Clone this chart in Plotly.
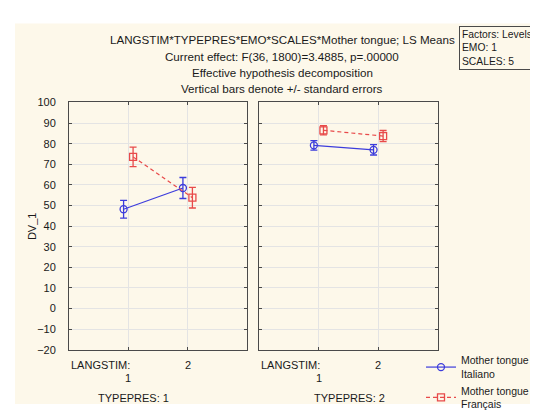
import plotly.graph_objects as go

W, H = 538, 410

# ---- data ----
langstim = [1, 2]
typepres_labels = ["TYPEPRES: 1", "TYPEPRES: 2"]
series_names = ["Mother tongue<br>Italiano", "Mother tongue<br>Français"]
italiano_means = [[48.2, 58.5], [79.2, 77.0]]
italiano_se = [[4.3, 5.1], [2.3, 2.5]]
francais_means = [[73.6, 53.8], [86.5, 83.7]]
francais_se = [[4.7, 5.0], [2.2, 2.7]]
y_ticks = list(range(-20, 101, 10))
title_lines = [
    "LANGSTIM*TYPEPRES*EMO*SCALES*Mother tongue; LS Means",
    "Current effect: F(36, 1800)=3.4885, p=.00000",
    "Effective hypothesis decomposition",
    "Vertical bars denote +/- standard errors",
]
factor_lines = ["Factors: Levels", "EMO: 1", "SCALES: 5"]

# ---- styling ----
FONT = "Liberation Sans, Arial, sans-serif"
BLUE = "#3c3cdc"
RED = "#e84a4a"
CREAM = "#fdf8ea"
FRAME = "#4a4a4a"
GRID = "#e4e4e4"
OFF = 0.08

def px(x):
    return x / W

def py(y):
    return 1 - y / H

fig = go.Figure()

series = [
    (series_names[0], italiano_means, italiano_se, BLUE, "circle-open", "solid", -OFF),
    (series_names[1], francais_means, francais_se, RED, "square-open", "4px,3px", OFF),
]

for p in range(2):
    xa = "x" if p == 0 else "x2"
    for name, means, se, col, sym, dash, off in series:
        fig.add_trace(go.Scatter(
            x=[v + off for v in langstim], y=means[p],
            xaxis=xa, yaxis="y" if p == 0 else "y2",
            mode="lines+markers", name=name, showlegend=(p == 0),
            line=dict(color=col, width=1.2, dash=dash),
            marker=dict(symbol=sym, size=7, color=col, line=dict(width=1.3, color=col)),
            error_y=dict(type="data", array=se[p], visible=True, color=col,
                         thickness=1.3, width=3.5),
        ))

ydom = [py(353), py(93)]
common_axis = dict(showline=True, linecolor=FRAME, linewidth=1, mirror="ticks",
                   ticks="inside", ticklen=3, tickcolor=FRAME, showgrid=True,
                   gridcolor=GRID, gridwidth=1, zeroline=False)

fig.update_layout(
    width=W, height=H,
    margin=dict(l=0, r=0, t=0, b=0),
    paper_bgcolor="white", plot_bgcolor="white",
    font=dict(family=FONT, size=11, color="#1a1a1a"),
    xaxis=dict(domain=[px(61), px(239)], range=[0, 3], tickvals=langstim,
               showticklabels=False, **common_axis),
    xaxis2=dict(domain=[px(251), px(430)], range=[0, 3], tickvals=langstim,
                showticklabels=False, anchor="y2", **common_axis),
    yaxis=dict(domain=ydom, range=[-20, 100], tickvals=y_ticks, ticklabelstandoff=10,
               **common_axis),
    yaxis2=dict(domain=ydom, range=[-20, 100], tickvals=y_ticks, anchor="x2",
                showticklabels=False, **common_axis),
    legend=dict(x=px(413), y=py(350), xanchor="left", yanchor="top",
                bgcolor="rgba(0,0,0,0)", font=dict(size=10.5), tracegroupgap=2),
    showlegend=True,
)

# cream background
fig.add_shape(type="rect", xref="paper", yref="paper", x0=px(7), x1=1, y0=0, y1=py(10),
              fillcolor=CREAM, line=dict(width=0), layer="below")

# y-axis title
fig.add_annotation(text="DV_1", xref="paper", yref="paper", x=px(24), y=py(223),
                   xanchor="center", yanchor="middle", textangle=-90, showarrow=False)

# titles
for t, yy in zip(title_lines, [27, 44.5, 61, 78]):
    fig.add_annotation(text=t, xref="paper", yref="paper", x=px(274), y=py(yy),
                       xanchor="center", yanchor="middle", showarrow=False,
                       font=dict(size=11.6))

# factor box
fig.add_annotation(text="<br>".join(factor_lines), xref="paper", yref="paper",
                   x=px(451), y=py(13), xanchor="left", yanchor="top", align="left",
                   showarrow=False, bordercolor=FRAME, borderwidth=1, borderpad=2,
                   bgcolor=CREAM, font=dict(size=10.3))

# x-axis category labels
for p, xa in enumerate(["x", "x2"]):
    fig.add_annotation(text="LANGSTIM:", xref=f"{xa} domain", yref="paper", x=0, y=py(369),
                       xanchor="left", yanchor="middle", showarrow=False)
    fig.add_annotation(text=str(langstim[0]), xref=xa, yref="paper", x=langstim[0], y=py(383),
                       xanchor="center", yanchor="middle", showarrow=False)
    fig.add_annotation(text=str(langstim[1]), xref=xa, yref="paper", x=langstim[1], y=py(369),
                       xanchor="center", yanchor="middle", showarrow=False)

for lab, xc in zip(typepres_labels, [125, 341]):
    fig.add_annotation(text=lab, xref="paper", yref="paper", x=px(xc), y=py(404),
                       xanchor="center", yanchor="middle", showarrow=False)

fig.write_html("out.html")
